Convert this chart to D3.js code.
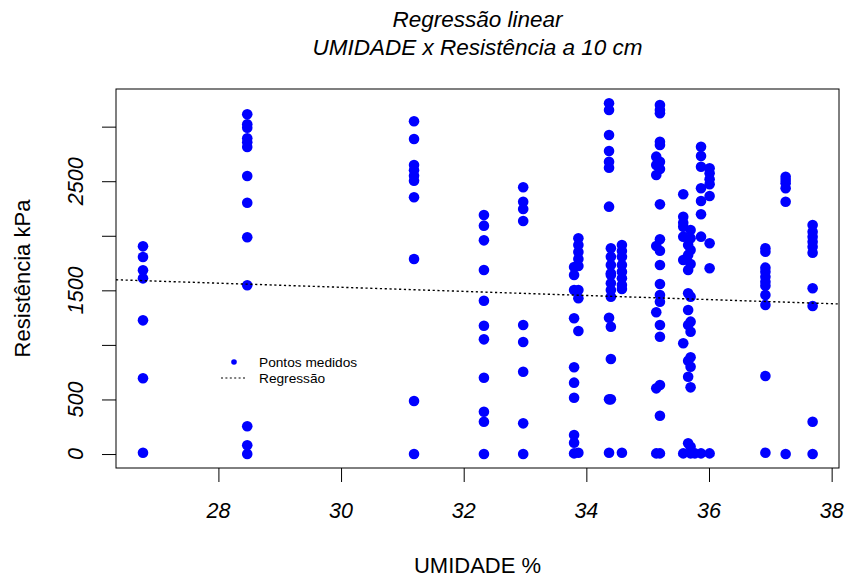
<!DOCTYPE html>
<html lang="pt">
<head>
<meta charset="UTF-8">
<title>Regressão linear</title>
<script src="https://d3js.org/d3.v7.min.js"></script>
<style>
    body { margin: 0; background: #fff; }
    svg { display: block; font-family: "Liberation Sans", Arial, sans-serif; }
    .tick-label { font-style: italic; font-size: 21.5px; fill: #000; }
    .title { font-style: italic; font-size: 22.5px; fill: #000; }
    .axis-title { font-size: 22px; fill: #000; }
    .legend text { font-size: 13.7px; fill: #000; }
</style>
</head>
<body>
<div id="chart"></div>
<script>
    // humidity levels (%) and the resistance readings (kPa) taken at each one
    var umidadeNiveis = [26.77, 28.47, 31.19, 32.33, 32.97, 33.80, 33.87, 34.37, 34.40, 34.58,
                         35.14, 35.20, 35.58, 35.66, 35.70, 35.77, 35.87, 36.01, 36.92, 37.25, 37.69];

    var resistencia = [
        [1903, 1805, 1683, 1610, 1225, 694, 12],
        [3113, 3022, 2991, 2893, 2857, 2814, 2548, 2303, 1986, 1546, 254, 80, 0],
        [3049, 2887, 2649, 2600, 2551, 2505, 2353, 1787, 486, 0],
        [2190, 2093, 1958, 1686, 1405, 1176, 1051, 699, 388, 296, 0],
        [2444, 2312, 2245, 2135, 1182, 1026, 754, 281, 0],
        [1714, 1641, 1503, 1244, 795, 654, 516, 174, 104, 6],
        [1977, 1915, 1851, 1787, 1723, 1503, 1427, 1127, 12],
        [3214, 3153, 2924, 2777, 2679, 2624, 2267, 1249, 501, 12],
        [1885, 1808, 1732, 1656, 1640, 1564, 1503, 1442, 1167, 871, 501],
        [1915, 1860, 1808, 1732, 1671, 1610, 1549, 1512, 12],
        [2725, 2649, 2557, 1906, 1299, 602, 6],
        [3199, 3153, 3123, 2862, 2832, 2679, 2612, 2288, 1968, 1863, 1732, 1558, 1457, 1396, 1182, 1075, 632, 351, 6],
        [2380, 2175, 2120, 2083, 1992, 1778, 1015, 6],
        [1915, 1824, 1686, 1473, 1320, 1182, 855, 708, 98],
        [2053, 1977, 1870, 1741, 1442, 1213, 1121, 886, 800, 611, 67, 6],
        [6],
        [2816, 2731, 2633, 2435, 2318, 2197, 1992, 6],
        [2618, 2572, 2517, 2472, 2365, 1931, 1702, 6],
        [1885, 1854, 1708, 1671, 1625, 1579, 1543, 1457, 1366, 715, 12],
        [2541, 2511, 2481, 2435, 2312, 0],
        [2099, 2038, 1992, 1946, 1900, 1845, 1519, 1356, 296, 0]
    ];

    // fitted line: resistencia = intercepto + inclinacao * umidade
    var intercepto = 2092;
    var inclinacao = -18.8;

    var xTicks = [28, 30, 32, 34, 36, 38];
    var yTicks = [0, 500, 1000, 1500, 2000, 2500, 3000];
    var yTickLabels = [0, 500, 1500, 2500];

    var width = 848, height = 577;
    var margin = {top: 89, right: 9, bottom: 109, left: 116};
    var plotW = width - margin.left - margin.right,
        plotH = height - margin.top - margin.bottom;

    var svg = d3.select("#chart").append("svg")
        .attr("width", width)
        .attr("height", height);

    var g = svg.append("g")
        .attr("transform", "translate(" + margin.left + "," + margin.top + ")");

    var x = d3.scaleLinear().domain([26.33, 38.12]).range([0, plotW]);
    var y = d3.scaleLinear().domain([-128, 3345]).range([plotH, 0]);

    var pontos = [];
    umidadeNiveis.forEach(function(u, i) {
        resistencia[i].forEach(function(r) { pontos.push({u: u, r: r}); });
    });

    // points
    g.selectAll("circle.ponto")
        .data(pontos)
        .enter().append("circle")
        .attr("class", "ponto")
        .attr("cx", function(d) { return x(d.u); })
        .attr("cy", function(d) { return y(d.r); })
        .attr("r", 5.3)
        .attr("fill", "#0000ff");

    // regression line across the whole plot region
    var xd = x.domain();
    g.append("line")
        .attr("x1", x(xd[0])).attr("y1", y(intercepto + inclinacao * xd[0]))
        .attr("x2", x(xd[1])).attr("y2", y(intercepto + inclinacao * xd[1]))
        .attr("stroke", "#000")
        .attr("stroke-width", 1.4)
        .attr("stroke-dasharray", "2.2,2.6");

    // box
    g.append("rect")
        .attr("width", plotW).attr("height", plotH)
        .attr("fill", "none").attr("stroke", "#000").attr("stroke-width", 1);

    // x axis
    var xAxis = d3.axisBottom(x).tickValues(xTicks).tickSize(14).tickFormat("");
    var gx = g.append("g").attr("transform", "translate(0," + plotH + ")").call(xAxis);
    gx.select(".domain").remove();
    gx.selectAll(".tick line").attr("stroke", "#000");
    gx.selectAll("text.tick-label")
        .data(xTicks)
        .enter().append("text")
        .attr("class", "tick-label")
        .attr("x", function(d) { return x(d); })
        .attr("y", 50)
        .attr("text-anchor", "middle")
        .text(function(d) { return d; });

    // y axis
    var yAxis = d3.axisLeft(y).tickValues(yTicks).tickSize(14).tickFormat("");
    var gy = g.append("g").call(yAxis);
    gy.select(".domain").remove();
    gy.selectAll(".tick line").attr("stroke", "#000");
    gy.selectAll("text.tick-label")
        .data(yTickLabels)
        .enter().append("text")
        .attr("class", "tick-label")
        .attr("text-anchor", "middle")
        .attr("transform", function(d) { return "translate(-33," + y(d) + ") rotate(-90)"; })
        .text(function(d) { return d; });

    // titles
    svg.append("text").attr("class", "title")
        .attr("x", margin.left + plotW / 2).attr("y", 27)
        .attr("text-anchor", "middle").text("Regressão linear");
    svg.append("text").attr("class", "title")
        .attr("x", margin.left + plotW / 2).attr("y", 55)
        .attr("text-anchor", "middle").text("UMIDADE x Resistência a 10 cm");

    svg.append("text").attr("class", "axis-title")
        .attr("x", margin.left + plotW / 2).attr("y", 573)
        .attr("text-anchor", "middle").text("UMIDADE %");
    svg.append("text").attr("class", "axis-title")
        .attr("text-anchor", "middle")
        .attr("transform", "translate(30," + (margin.top + plotH / 2) + ") rotate(-90)")
        .text("Resistência kPa");

    // legend
    var legend = svg.append("g").attr("class", "legend").attr("transform", "translate(221,362)");
    legend.append("circle").attr("cx", 13).attr("cy", 0).attr("r", 2.8).attr("fill", "#0000ff");
    legend.append("text").attr("x", 38).attr("y", 5).text("Pontos medidos");
    legend.append("line")
        .attr("x1", 0).attr("x2", 26).attr("y1", 16).attr("y2", 16)
        .attr("stroke", "#000").attr("stroke-width", 1.2).attr("stroke-dasharray", "2,2.4");
    legend.append("text").attr("x", 38).attr("y", 21).text("Regressão");
</script>
</body>
</html>
